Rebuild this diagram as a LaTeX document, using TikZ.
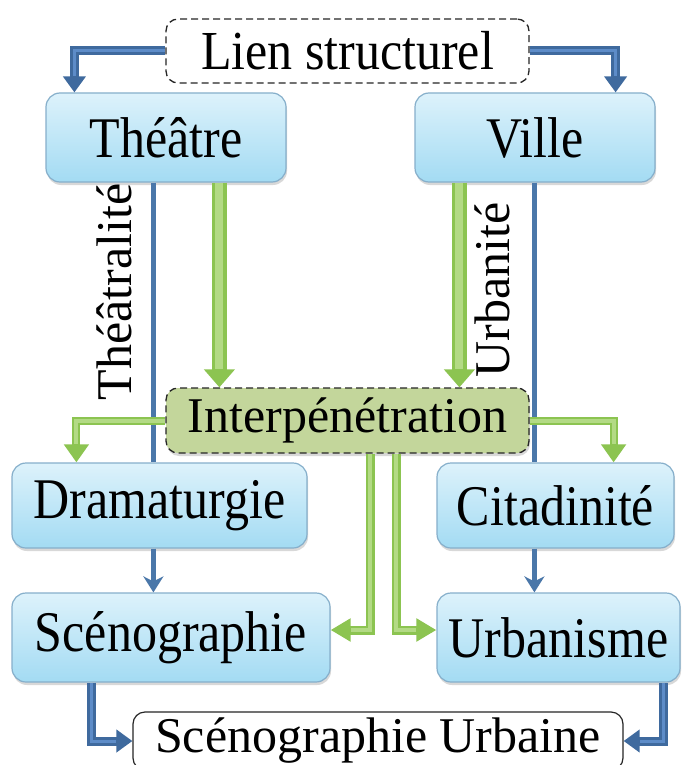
\documentclass[tikz,border=0pt]{standalone}
\usepackage{fontspec}
\setmainfont{Liberation Serif}
\usetikzlibrary{arrows.meta,shadows}

\definecolor{boxTop}{HTML}{DDF2FB}
\definecolor{boxBottom}{HTML}{A3DBF3}
\definecolor{boxLine}{HTML}{86AFCB}
\definecolor{interFill}{HTML}{C3D69B}
\definecolor{linkBlue}{HTML}{3F6A9E}
\definecolor{linkBlueLight}{HTML}{5D8CC8}
\definecolor{thinBlue}{HTML}{4A77A9}
\definecolor{linkGreen}{HTML}{8CC451}
\definecolor{linkGreenLight}{HTML}{B3DA85}

% vertically stretched label text
\newcommand{\stretchy}[2]{\scalebox{1}[#1]{#2}}

\begin{document}
\begin{tikzpicture}[x=1pt,y=-1pt,
  every node/.style={font=\fontsize{50pt}{60pt}\selectfont, inner sep=0pt},
  bluebox/.style={draw=boxLine, line width=1.2pt, rounded corners=14pt,
    top color=boxTop, bottom color=boxBottom,
    drop shadow={shadow xshift=1pt, shadow yshift=-3pt, opacity=0.3}},
  dashbox/.style={draw=black!85, line width=1.3pt, dash pattern=on 7pt off 4pt,
    rounded corners=12pt, fill=white},
  interbox/.style={dashbox, fill=interFill,
    drop shadow={shadow xshift=1pt, shadow yshift=-3pt, opacity=0.3}},
  plainbox/.style={draw=black!85, line width=1.2pt, rounded corners=12pt, fill=white},
  bluelink/.style={draw=linkBlue, line width=9pt,
    -{Triangle[width=22pt,length=16pt]},
    postaction={draw=linkBlueLight, line width=3pt, -, shorten >=16pt}},
  bluethin/.style={draw=thinBlue, line width=4.5pt},
  bluetip/.style={-{Stealth[width=20pt,length=16pt,inset=5pt]}},
  greenthick/.style={draw=linkGreen, line width=15pt,
    -{Triangle[width=30pt,length=18pt]},
    postaction={draw=linkGreenLight, line width=8pt, -, shorten >=18pt}},
  greenmid/.style={draw=linkGreen, line width=8pt,
    -{Triangle[width=24pt,length=18pt]},
    postaction={draw=linkGreenLight, line width=4pt, -, shorten >=18pt}},
  greenthin/.style={draw=linkGreen, line width=9pt,
    -{Triangle[width=22pt,length=20pt]},
    postaction={draw=linkGreenLight, line width=4pt, -, shorten >=20pt}},
]
\clip (0,0) rectangle (689,765);
\fill[white] (0,0) rectangle (689,765);

% boxes
\node[dashbox, minimum width=363pt, minimum height=64pt] (lien) at (347.5,51) {\stretchy{1.1}{Lien structurel}};
\node[bluebox, minimum width=240pt, minimum height=89pt] (theatre) at (166,137.5) {\stretchy{1.15}{Théâtre}};
\node[bluebox, minimum width=240pt, minimum height=89pt] (ville) at (535,137.5) {\stretchy{1.15}{Ville}};
\node[interbox, minimum width=363pt, minimum height=65pt] (interp) at (347.5,420.5) {Interpénétration};
\node[bluebox, minimum width=295pt, minimum height=85pt] (drama) at (159.5,505.5) {\stretchy{1.15}{Dramaturgie}};
\node[bluebox, minimum width=237pt, minimum height=85pt] (cit) at (555.5,505.5) {\stretchy{1.15}{Citadinité}};
\node[bluebox, minimum width=318pt, minimum height=89pt] (scen) at (171,637.5) {\stretchy{1.15}{Scénographie}};
\node[bluebox, minimum width=243pt, minimum height=89pt] (urb) at (558.5,637.5) {\stretchy{1.15}{Urbanisme}};
\node[plainbox, minimum width=490pt, minimum height=58pt] (su) at (378,741) {Scénographie Urbaine};

% vertical labels
\node[rotate=90] (lblT) at (114,292) {Théâtralité};
\node[rotate=90] (lblU) at (492,290) {Urbanité};

% thin blue lines and arrows
\coordinate (tA) at ([xshift=108pt]theatre.south west);
\draw[bluethin] (tA) -- (tA |- drama.north);
\coordinate (vA) at ([xshift=120pt]ville.south west);
\draw[bluethin] (vA) -- (vA |- cit.north);
\coordinate (dA) at ([xshift=142pt]drama.south west);
\draw[bluethin, bluetip] (dA) -- (dA |- scen.north);
\coordinate (cA) at ([xshift=98pt]cit.south west);
\draw[bluethin, bluetip] (cA) -- (cA |- urb.north);

% green links
\coordinate (tG) at ([xshift=174pt]theatre.south west);
\draw[greenthick] (tG) -- (tG |- interp.north);
\coordinate (vG) at ([xshift=45pt]ville.south west);
\draw[greenthick] (vG) -- (vG |- interp.north);
\draw[greenmid] (interp.west) -| ([xshift=65pt]drama.north west);
\draw[greenmid] (interp.east) -| ([xshift=-61pt]cit.north east);
\coordinate (iL) at ([xshift=205pt]interp.south west);
\draw[greenthin] (iL) |- ([yshift=7.5pt]scen.east);
\coordinate (iR) at ([xshift=231pt]interp.south west);
\draw[greenthin] (iR) |- ([yshift=7.5pt]urb.west);

% thick blue links
\draw[bluelink] (lien.west) -| ([xshift=29pt]theatre.north west);
\draw[bluelink] (lien.east) -| ([xshift=-40pt]ville.north east);
\coordinate (sB) at ([xshift=80pt]scen.south west);
\draw[bluelink] (sB) |- (su.west);
\coordinate (uB) at ([xshift=-17pt]urb.south east);
\draw[bluelink] (uB) |- (su.east);
\end{tikzpicture}
\end{document}
